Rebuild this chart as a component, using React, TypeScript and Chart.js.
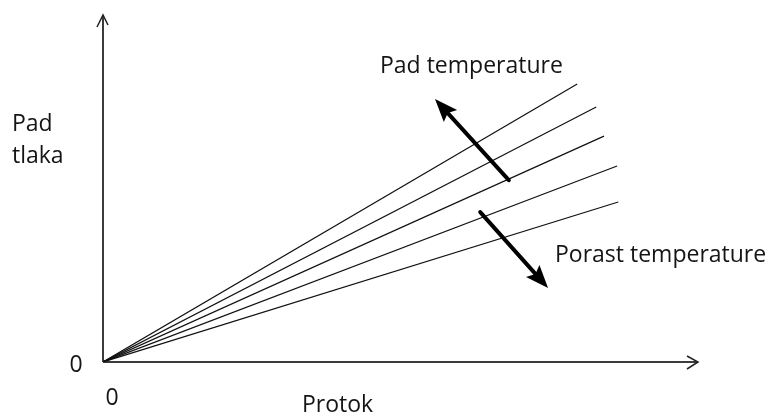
import React, { useEffect, useRef } from 'react';
import { Chart, registerables } from 'chart.js';

Chart.register(...registerables);

// Data (arbitrary units: 0..100 on both axes)
const seriesNames = ['T1', 'T2', 'T3', 'T4', 'T5'];
const flowStart = [0, 0, 0, 0, 0];
const dropStart = [0, 0, 0, 0, 0];
const flowEnd = [79.7, 82.9, 84.2, 86.4, 86.6];
const dropEnd = [80.1, 73.5, 65.1, 56.5, 46.1];
const axisMaxX = 100;
const axisMaxY = 100;

// Trend arrows (data coordinates: [tailX, tailY, tipX, tipY])
const arrowTempDown = [68.2, 52.4, 55.8, 75.8];
const arrowTempUp = [63.4, 43.2, 74.8, 21.3];

const labelTempDown = 'Pad temperature';
const labelTempUp = 'Porast temperature';
const yTitleLines = ['Pad', 'tlaka'];
const xTitle = 'Protok';
const zeroLabel = '0';

const FONT = '23px "Open Sans", "Noto Sans", sans-serif';

const drawPlugin = {
  id: 'sketch',
  beforeDatasetsDraw(chart: any) {
    const { ctx, chartArea } = chart;
    const { left, right, top, bottom } = chartArea;
    ctx.save();
    // axes
    ctx.strokeStyle = '#3c3c3c';
    ctx.lineWidth = 2;
    ctx.beginPath();
    ctx.moveTo(left, bottom);
    ctx.lineTo(left, top);
    ctx.moveTo(left, bottom);
    ctx.lineTo(right, bottom);
    ctx.stroke();
    // chevrons
    ctx.lineWidth = 1.5;
    ctx.strokeStyle = '#222';
    ctx.beginPath();
    ctx.moveTo(left - 6, top + 12);
    ctx.lineTo(left, top);
    ctx.lineTo(left + 5, top + 10);
    ctx.moveTo(right - 11, bottom - 6);
    ctx.lineTo(right, bottom);
    ctx.lineTo(right - 11, bottom + 7);
    ctx.stroke();
    ctx.restore();
  },
  afterDatasetsDraw(chart: any) {
    const { ctx, chartArea, scales } = chart;
    const { left, bottom } = chartArea;
    const xs = scales.x;
    const ys = scales.y;
    ctx.save();
    const drawArrow = (a: number[]) => {
      const x1 = xs.getPixelForValue(a[0]);
      const y1 = ys.getPixelForValue(a[1]);
      const x2 = xs.getPixelForValue(a[2]);
      const y2 = ys.getPixelForValue(a[3]);
      const ang = Math.atan2(y2 - y1, x2 - x1);
      const headLen = 23;
      const headHalf = 9;
      const bx = x2 - headLen * Math.cos(ang);
      const by = y2 - headLen * Math.sin(ang);
      ctx.strokeStyle = '#000';
      ctx.fillStyle = '#000';
      ctx.lineWidth = 4;
      ctx.lineCap = 'round';
      ctx.beginPath();
      ctx.moveTo(x1, y1);
      ctx.lineTo(bx + 4 * Math.cos(ang), by + 4 * Math.sin(ang));
      ctx.stroke();
      ctx.beginPath();
      ctx.moveTo(x2, y2);
      ctx.lineTo(bx + headHalf * Math.sin(ang), by - headHalf * Math.cos(ang));
      ctx.lineTo(bx + 4 * Math.cos(ang), by + 4 * Math.sin(ang));
      ctx.lineTo(bx - headHalf * Math.sin(ang), by + headHalf * Math.cos(ang));
      ctx.closePath();
      ctx.fill();
    };
    drawArrow(arrowTempDown);
    drawArrow(arrowTempUp);

    ctx.fillStyle = '#151515';
    ctx.font = FONT;
    ctx.textBaseline = 'alphabetic';
    ctx.textAlign = 'left';
    ctx.fillText(labelTempDown, 380, 73);
    ctx.fillText(labelTempUp, 555, 262);
    ctx.fillText(yTitleLines[0], 12, 131);
    ctx.fillText(yTitleLines[1], 12, 163);
    ctx.fillText(xTitle, 302, 412);
    ctx.textAlign = 'center';
    ctx.fillText(zeroLabel, left - 27, bottom + 10);
    ctx.fillText(zeroLabel, left + 9, bottom + 43);
    ctx.restore();
  },
};

export default function App() {
  const ref = useRef<HTMLCanvasElement | null>(null);
  useEffect(() => {
    if (!ref.current) return;
    const datasets = seriesNames.map((name, i) => ({
      label: name,
      data: [
        { x: flowStart[i], y: dropStart[i] },
        { x: flowEnd[i], y: dropEnd[i] },
      ],
      showLine: true,
      borderColor: '#111',
      borderWidth: 1.2,
      pointRadius: 0,
      fill: false,
    }));
    const chart = new Chart(ref.current, {
      type: 'scatter',
      data: { datasets },
      options: {
        animation: false,
        responsive: false,
        maintainAspectRatio: false,
        layout: { padding: { left: 103, right: 70, top: 15, bottom: 53 } },
        plugins: { legend: { display: false }, tooltip: { enabled: false } },
        scales: {
          x: { type: 'linear', min: 0, max: axisMaxX, display: false },
          y: { type: 'linear', min: 0, max: axisMaxY, display: false },
        },
      },
      plugins: [drawPlugin],
    });
    return () => chart.destroy();
  }, []);
  return (
    <div style={{ position: 'fixed', left: 0, top: 0, width: 768, height: 415, background: '#fff' }}>
      <canvas ref={ref} width={768} height={415} style={{ display: 'block' }} />
    </div>
  );
}
